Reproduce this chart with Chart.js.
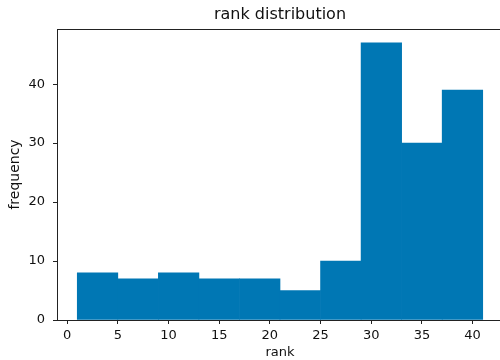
<!DOCTYPE html>
<html>
<head>
<meta charset="utf-8">
<script src="https://cdn.jsdelivr.net/npm/chart.js@4"></script>
<style>
  html, body { margin: 0; padding: 0; background: #fff; overflow: hidden; }
  #wrap { position: absolute; left: 0; top: 0; width: 510px; height: 360px; }
</style>
</head>
<body>
<div id="wrap"><canvas id="hist"></canvas></div>
<script>
// histogram bins (start of each bin), all 4 wide
const binStarts = [1, 5, 9, 13, 17, 21, 25, 29, 33, 37];
const binWidth = 4;
const frequencies = [8, 7, 8, 7, 7, 5, 10, 47, 30, 39];
const xTicks = [0, 5, 10, 15, 20, 25, 30, 35, 40];
const yTicks = [0, 10, 20, 30, 40];

const barColor = '#0077b4';
const tickFont = { family: 'DejaVu Sans', size: 13 };

// top spine, like matplotlib's axes frame
const framePlugin = {
    id: 'frame',
    afterDraw(chart) {
        const { ctx, chartArea } = chart;
        ctx.save();
        ctx.strokeStyle = '#222';
        ctx.lineWidth = 1;
        ctx.beginPath();
        ctx.moveTo(chartArea.left, chartArea.top + 0.5);
        ctx.lineTo(chartArea.right, chartArea.top + 0.5);
        ctx.stroke();
        ctx.restore();
    }
};

new Chart(document.getElementById('hist'), {
    type: 'bar',
    data: {
        datasets: [{
            data: binStarts.map((s, i) => ({ x: s + binWidth / 2, y: frequencies[i] })),
            backgroundColor: barColor,
            borderWidth: 0,
            barPercentage: 1,
            categoryPercentage: 1,
        }],
    },
    options: {
        responsive: true,
        maintainAspectRatio: false,
        animation: false,
        layout: { padding: { left: 0, right: 7, top: 0, bottom: 0 } },
        plugins: {
            legend: { display: false },
            tooltip: { enabled: false },
            title: {
                display: true,
                fullSize: false, // center over the plot area, not the canvas
                text: 'rank distribution',
                color: '#111',
                font: { family: 'DejaVu Sans', size: 16, weight: 'normal' },
                padding: { top: 5.4, bottom: 4.4 },
            },
        },
        scales: {
            x: {
                type: 'linear',
                min: -1,
                max: 43,
                offset: false,
                afterBuildTicks: (scale) => { scale.ticks = xTicks.map(v => ({ value: v })); },
                afterFit: (scale) => { scale.height = 40; },
                grid: { display: true, offset: false, drawOnChartArea: false, drawTicks: true, tickLength: 4, color: '#222' },
                border: { display: true, color: '#222', width: 1 },
                ticks: { color: '#111', font: tickFont, padding: 4, maxRotation: 0, autoSkip: false },
                title: { display: true, text: 'rank', color: '#111', font: tickFont, padding: { top: 0, bottom: 0 } },
            },
            y: {
                type: 'linear',
                min: 0,
                max: 49.35,
                afterBuildTicks: (scale) => { scale.ticks = yTicks.map(v => ({ value: v })); },
                afterFit: (scale) => { scale.width = 57; },
                grid: { display: true, drawOnChartArea: false, drawTicks: true, tickLength: 4, color: '#222' },
                border: { display: true, color: '#222', width: 1 },
                ticks: { color: '#111', font: tickFont, padding: 8 },
                title: { display: true, text: 'frequency', color: '#111', font: { family: 'DejaVu Sans', size: 14 }, padding: { top: 7, bottom: 0 } },
            },
        },
    },
    plugins: [framePlugin],
});
</script>
</body>
</html>
